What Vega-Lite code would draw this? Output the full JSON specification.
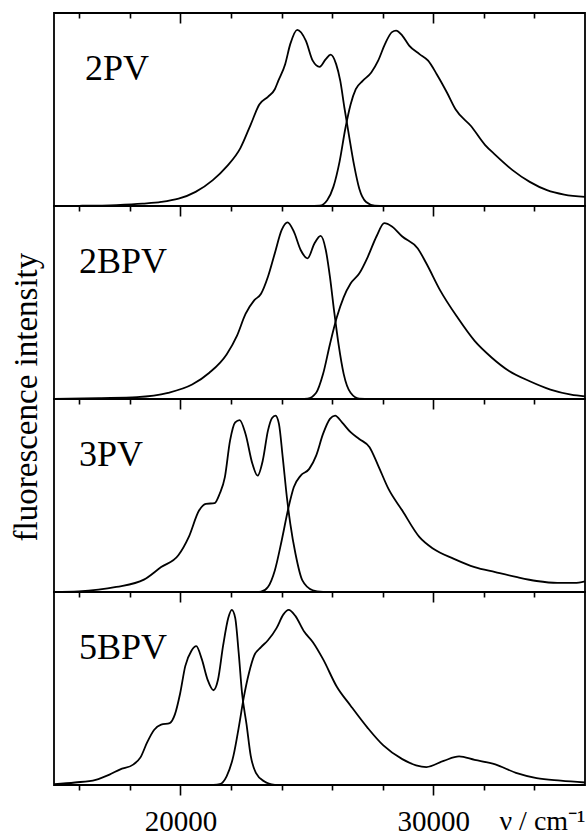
{
  "$schema": "https://vega.github.io/schema/vega-lite/v6.json",
  "autosize": {"type": "pad"},
  "padding": {"left": 10, "top": 11, "right": 0, "bottom": 0},
  "background": "white",
  "bounds": "flush",
  "spacing": 0,
  "title": {"text": "fluorescence intensity", "orient": "left", "anchor": "middle", "font": "Liberation Serif", "fontSize": 33, "fontWeight": "normal", "color": "black", "offset": 6, "dx": 27},
  "config": {
    "view": {"stroke": "black", "strokeWidth": 1.8},
    "font": "Liberation Serif",
    "axis": {"grid": false, "domain": false, "ticks": true, "tickColor": "black", "tickWidth": 1.6, "tickOpacity": 1, "labelFont": "Liberation Serif", "labelColor": "black", "titleColor": "black"},
    "line": {"color": "black", "strokeWidth": 1.8, "interpolate": "monotone"},
    "text": {"font": "Liberation Serif", "fontSize": 36, "color": "black", "align": "left", "baseline": "alphabetic"}
  },
  "datasets": {
    "spectra": [
      {"panel":"2PV","curve":"em","nu":15000,"intensity":0},{"panel":"2PV","curve":"em","nu":16000,"intensity":0.001},{"panel":"2PV","curve":"em","nu":17466,"intensity":0.005},{"panel":"2PV","curve":"em","nu":18500,"intensity":0.012},{"panel":"2PV","curve":"em","nu":19237,"intensity":0.021},{"panel":"2PV","curve":"em","nu":20600,"intensity":0.073},{"panel":"2PV","curve":"em","nu":21281,"intensity":0.134},{"panel":"2PV","curve":"em","nu":21826,"intensity":0.204},{"panel":"2PV","curve":"em","nu":22371,"intensity":0.300},{"panel":"2PV","curve":"em","nu":22779,"intensity":0.422},{"panel":"2PV","curve":"em","nu":23120,"intensity":0.526},{"panel":"2PV","curve":"em","nu":23461,"intensity":0.566},{"panel":"2PV","curve":"em","nu":23733,"intensity":0.605},{"panel":"2PV","curve":"em","nu":23869,"intensity":0.648},{"panel":"2PV","curve":"em","nu":24142,"intensity":0.735},{"panel":"2PV","curve":"em","nu":24346,"intensity":0.840},{"panel":"2PV","curve":"em","nu":24619,"intensity":0.913},{"panel":"2PV","curve":"em","nu":24959,"intensity":0.857},{"panel":"2PV","curve":"em","nu":25232,"intensity":0.753},{"panel":"2PV","curve":"em","nu":25504,"intensity":0.721},{"panel":"2PV","curve":"em","nu":25749,"intensity":0.761},{"panel":"2PV","curve":"em","nu":25940,"intensity":0.784},{"panel":"2PV","curve":"em","nu":26158,"intensity":0.735},{"panel":"2PV","curve":"em","nu":26322,"intensity":0.648},{"panel":"2PV","curve":"em","nu":26485,"intensity":0.509},{"panel":"2PV","curve":"em","nu":26662,"intensity":0.369},{"panel":"2PV","curve":"em","nu":26866,"intensity":0.213},{"panel":"2PV","curve":"em","nu":27071,"intensity":0.091},{"panel":"2PV","curve":"em","nu":27343,"intensity":0.021},{"panel":"2PV","curve":"em","nu":27684,"intensity":0.002},{"panel":"2PV","curve":"em","nu":28200,"intensity":0},
      {"panel":"2PV","curve":"abs","nu":25000,"intensity":0},{"panel":"2PV","curve":"abs","nu":25504,"intensity":0.002},{"panel":"2PV","curve":"abs","nu":25804,"intensity":0.030},{"panel":"2PV","curve":"abs","nu":26049,"intensity":0.099},{"panel":"2PV","curve":"abs","nu":26294,"intensity":0.230},{"panel":"2PV","curve":"abs","nu":26526,"intensity":0.404},{"panel":"2PV","curve":"abs","nu":26730,"intensity":0.526},{"panel":"2PV","curve":"abs","nu":26935,"intensity":0.605},{"panel":"2PV","curve":"abs","nu":27207,"intensity":0.648},{"panel":"2PV","curve":"abs","nu":27548,"intensity":0.692},{"panel":"2PV","curve":"abs","nu":27820,"intensity":0.753},{"panel":"2PV","curve":"abs","nu":28093,"intensity":0.840},{"panel":"2PV","curve":"abs","nu":28365,"intensity":0.901},{"panel":"2PV","curve":"abs","nu":28528,"intensity":0.909},{"panel":"2PV","curve":"abs","nu":28774,"intensity":0.883},{"panel":"2PV","curve":"abs","nu":29046,"intensity":0.831},{"panel":"2PV","curve":"abs","nu":29455,"intensity":0.787},{"panel":"2PV","curve":"abs","nu":29796,"intensity":0.753},{"panel":"2PV","curve":"abs","nu":30136,"intensity":0.683},{"panel":"2PV","curve":"abs","nu":30545,"intensity":0.587},{"panel":"2PV","curve":"abs","nu":30886,"intensity":0.500},{"panel":"2PV","curve":"abs","nu":31499,"intensity":0.413},{"panel":"2PV","curve":"abs","nu":32043,"intensity":0.317},{"panel":"2PV","curve":"abs","nu":32452,"intensity":0.265},{"panel":"2PV","curve":"abs","nu":33133,"intensity":0.186},{"panel":"2PV","curve":"abs","nu":33815,"intensity":0.125},{"panel":"2PV","curve":"abs","nu":34496,"intensity":0.082},{"panel":"2PV","curve":"abs","nu":35177,"intensity":0.059},{"panel":"2PV","curve":"abs","nu":36000,"intensity":0.047},
      {"panel":"2BPV","curve":"em","nu":15000,"intensity":0},{"panel":"2BPV","curve":"em","nu":16785,"intensity":0.005},{"panel":"2BPV","curve":"em","nu":18283,"intensity":0.010},{"panel":"2BPV","curve":"em","nu":19510,"intensity":0.032},{"panel":"2BPV","curve":"em","nu":20463,"intensity":0.075},{"panel":"2BPV","curve":"em","nu":21144,"intensity":0.136},{"panel":"2BPV","curve":"em","nu":21826,"intensity":0.231},{"panel":"2BPV","curve":"em","nu":22234,"intensity":0.327},{"panel":"2BPV","curve":"em","nu":22575,"intensity":0.441},{"panel":"2BPV","curve":"em","nu":22916,"intensity":0.511},{"panel":"2BPV","curve":"em","nu":23188,"intensity":0.545},{"panel":"2BPV","curve":"em","nu":23461,"intensity":0.633},{"panel":"2BPV","curve":"em","nu":23733,"intensity":0.755},{"panel":"2BPV","curve":"em","nu":24005,"intensity":0.876},{"panel":"2BPV","curve":"em","nu":24237,"intensity":0.915},{"panel":"2BPV","curve":"em","nu":24482,"intensity":0.868},{"panel":"2BPV","curve":"em","nu":24755,"intensity":0.772},{"panel":"2BPV","curve":"em","nu":25027,"intensity":0.729},{"panel":"2BPV","curve":"em","nu":25300,"intensity":0.806},{"panel":"2BPV","curve":"em","nu":25545,"intensity":0.845},{"panel":"2BPV","curve":"em","nu":25749,"intensity":0.772},{"panel":"2BPV","curve":"em","nu":25913,"intensity":0.633},{"panel":"2BPV","curve":"em","nu":26076,"intensity":0.458},{"panel":"2BPV","curve":"em","nu":26253,"intensity":0.284},{"panel":"2BPV","curve":"em","nu":26458,"intensity":0.129},{"panel":"2BPV","curve":"em","nu":26730,"intensity":0.032},{"panel":"2BPV","curve":"em","nu":27071,"intensity":0.002},{"panel":"2BPV","curve":"em","nu":27600,"intensity":0},
      {"panel":"2BPV","curve":"abs","nu":24700,"intensity":0},{"panel":"2BPV","curve":"abs","nu":25027,"intensity":0.002},{"panel":"2BPV","curve":"abs","nu":25368,"intensity":0.032},{"panel":"2BPV","curve":"abs","nu":25640,"intensity":0.129},{"panel":"2BPV","curve":"abs","nu":25913,"intensity":0.284},{"panel":"2BPV","curve":"abs","nu":26185,"intensity":0.423},{"panel":"2BPV","curve":"abs","nu":26458,"intensity":0.528},{"panel":"2BPV","curve":"abs","nu":26730,"intensity":0.598},{"panel":"2BPV","curve":"abs","nu":27071,"intensity":0.650},{"panel":"2BPV","curve":"abs","nu":27411,"intensity":0.737},{"panel":"2BPV","curve":"abs","nu":27752,"intensity":0.842},{"panel":"2BPV","curve":"abs","nu":28065,"intensity":0.911},{"panel":"2BPV","curve":"abs","nu":28365,"intensity":0.894},{"panel":"2BPV","curve":"abs","nu":28774,"intensity":0.842},{"panel":"2BPV","curve":"abs","nu":29387,"intensity":0.780},{"panel":"2BPV","curve":"abs","nu":29728,"intensity":0.702},{"panel":"2BPV","curve":"abs","nu":30272,"intensity":0.563},{"panel":"2BPV","curve":"abs","nu":30954,"intensity":0.423},{"panel":"2BPV","curve":"abs","nu":31635,"intensity":0.301},{"panel":"2BPV","curve":"abs","nu":32316,"intensity":0.214},{"panel":"2BPV","curve":"abs","nu":32997,"intensity":0.145},{"panel":"2BPV","curve":"abs","nu":33815,"intensity":0.092},{"panel":"2BPV","curve":"abs","nu":34632,"intensity":0.049},{"panel":"2BPV","curve":"abs","nu":35449,"intensity":0.023},{"panel":"2BPV","curve":"abs","nu":36000,"intensity":0.014},
      {"panel":"3PV","curve":"em","nu":15000,"intensity":0},{"panel":"3PV","curve":"em","nu":15967,"intensity":0.003},{"panel":"3PV","curve":"em","nu":17466,"intensity":0.026},{"panel":"3PV","curve":"em","nu":18556,"intensity":0.064},{"panel":"3PV","curve":"em","nu":19237,"intensity":0.129},{"panel":"3PV","curve":"em","nu":19918,"intensity":0.190},{"panel":"3PV","curve":"em","nu":20327,"intensity":0.284},{"panel":"3PV","curve":"em","nu":20736,"intensity":0.422},{"panel":"3PV","curve":"em","nu":21008,"intensity":0.457},{"panel":"3PV","curve":"em","nu":21349,"intensity":0.460},{"panel":"3PV","curve":"em","nu":21553,"intensity":0.509},{"panel":"3PV","curve":"em","nu":21758,"intensity":0.595},{"panel":"3PV","curve":"em","nu":21962,"intensity":0.784},{"panel":"3PV","curve":"em","nu":22166,"intensity":0.879},{"panel":"3PV","curve":"em","nu":22343,"intensity":0.891},{"panel":"3PV","curve":"em","nu":22575,"intensity":0.819},{"panel":"3PV","curve":"em","nu":22847,"intensity":0.664},{"panel":"3PV","curve":"em","nu":23052,"intensity":0.603},{"panel":"3PV","curve":"em","nu":23256,"intensity":0.681},{"panel":"3PV","curve":"em","nu":23461,"intensity":0.836},{"panel":"3PV","curve":"em","nu":23624,"intensity":0.902},{"panel":"3PV","curve":"em","nu":23760,"intensity":0.914},{"panel":"3PV","curve":"em","nu":23896,"intensity":0.871},{"panel":"3PV","curve":"em","nu":24046,"intensity":0.698},{"panel":"3PV","curve":"em","nu":24210,"intensity":0.491},{"panel":"3PV","curve":"em","nu":24346,"intensity":0.353},{"panel":"3PV","curve":"em","nu":24550,"intensity":0.198},{"panel":"3PV","curve":"em","nu":24823,"intensity":0.060},{"panel":"3PV","curve":"em","nu":25232,"intensity":0.009},{"panel":"3PV","curve":"em","nu":25640,"intensity":0},
      {"panel":"3PV","curve":"abs","nu":23000,"intensity":0},{"panel":"3PV","curve":"abs","nu":23188,"intensity":0.002},{"panel":"3PV","curve":"abs","nu":23461,"intensity":0.026},{"panel":"3PV","curve":"abs","nu":23733,"intensity":0.112},{"panel":"3PV","curve":"abs","nu":24005,"intensity":0.267},{"panel":"3PV","curve":"abs","nu":24278,"intensity":0.440},{"panel":"3PV","curve":"abs","nu":24482,"intensity":0.543},{"panel":"3PV","curve":"abs","nu":24755,"intensity":0.603},{"panel":"3PV","curve":"abs","nu":25095,"intensity":0.638},{"panel":"3PV","curve":"abs","nu":25368,"intensity":0.707},{"panel":"3PV","curve":"abs","nu":25640,"intensity":0.819},{"panel":"3PV","curve":"abs","nu":25913,"intensity":0.897},{"panel":"3PV","curve":"abs","nu":26117,"intensity":0.914},{"panel":"3PV","curve":"abs","nu":26390,"intensity":0.879},{"panel":"3PV","curve":"abs","nu":26730,"intensity":0.828},{"panel":"3PV","curve":"abs","nu":27071,"intensity":0.793},{"panel":"3PV","curve":"abs","nu":27480,"intensity":0.750},{"panel":"3PV","curve":"abs","nu":27820,"intensity":0.655},{"panel":"3PV","curve":"abs","nu":28229,"intensity":0.534},{"panel":"3PV","curve":"abs","nu":28774,"intensity":0.422},{"panel":"3PV","curve":"abs","nu":29455,"intensity":0.284},{"panel":"3PV","curve":"abs","nu":30000,"intensity":0.224},{"panel":"3PV","curve":"abs","nu":30817,"intensity":0.172},{"panel":"3PV","curve":"abs","nu":31635,"intensity":0.129},{"panel":"3PV","curve":"abs","nu":32452,"intensity":0.103},{"panel":"3PV","curve":"abs","nu":33270,"intensity":0.078},{"panel":"3PV","curve":"abs","nu":34087,"intensity":0.057},{"panel":"3PV","curve":"abs","nu":34905,"intensity":0.047},{"panel":"3PV","curve":"abs","nu":35586,"intensity":0.047},{"panel":"3PV","curve":"abs","nu":36000,"intensity":0.055},
      {"panel":"5BPV","curve":"em","nu":15014,"intensity":0.004},{"panel":"5BPV","curve":"em","nu":15831,"intensity":0.013},{"panel":"5BPV","curve":"em","nu":16649,"intensity":0.027},{"panel":"5BPV","curve":"em","nu":17194,"intensity":0.054},{"panel":"5BPV","curve":"em","nu":17602,"intensity":0.080},{"panel":"5BPV","curve":"em","nu":18147,"intensity":0.107},{"panel":"5BPV","curve":"em","nu":18420,"intensity":0.143},{"panel":"5BPV","curve":"em","nu":18692,"intensity":0.223},{"panel":"5BPV","curve":"em","nu":18965,"intensity":0.286},{"panel":"5BPV","curve":"em","nu":19237,"intensity":0.313},{"panel":"5BPV","curve":"em","nu":19578,"intensity":0.321},{"panel":"5BPV","curve":"em","nu":19782,"intensity":0.366},{"panel":"5BPV","curve":"em","nu":19986,"intensity":0.473},{"panel":"5BPV","curve":"em","nu":20191,"intensity":0.616},{"panel":"5BPV","curve":"em","nu":20436,"intensity":0.696},{"panel":"5BPV","curve":"em","nu":20627,"intensity":0.720},{"panel":"5BPV","curve":"em","nu":20845,"intensity":0.652},{"panel":"5BPV","curve":"em","nu":21076,"intensity":0.545},{"panel":"5BPV","curve":"em","nu":21308,"intensity":0.491},{"panel":"5BPV","curve":"em","nu":21485,"intensity":0.545},{"panel":"5BPV","curve":"em","nu":21689,"intensity":0.723},{"panel":"5BPV","curve":"em","nu":21894,"intensity":0.866},{"panel":"5BPV","curve":"em","nu":22030,"intensity":0.907},{"panel":"5BPV","curve":"em","nu":22166,"intensity":0.866},{"panel":"5BPV","curve":"em","nu":22302,"intensity":0.688},{"panel":"5BPV","curve":"em","nu":22439,"intensity":0.473},{"panel":"5BPV","curve":"em","nu":22616,"intensity":0.313},{"panel":"5BPV","curve":"em","nu":22779,"intensity":0.152},{"panel":"5BPV","curve":"em","nu":22984,"intensity":0.063},{"panel":"5BPV","curve":"em","nu":23324,"intensity":0.018},{"panel":"5BPV","curve":"em","nu":23733,"intensity":0},
      {"panel":"5BPV","curve":"abs","nu":21300,"intensity":0},{"panel":"5BPV","curve":"abs","nu":21553,"intensity":0.004},{"panel":"5BPV","curve":"abs","nu":21826,"intensity":0.045},{"panel":"5BPV","curve":"abs","nu":22098,"intensity":0.152},{"panel":"5BPV","curve":"abs","nu":22302,"intensity":0.295},{"panel":"5BPV","curve":"abs","nu":22507,"intensity":0.455},{"panel":"5BPV","curve":"abs","nu":22711,"intensity":0.580},{"panel":"5BPV","curve":"abs","nu":22916,"intensity":0.670},{"panel":"5BPV","curve":"abs","nu":23188,"intensity":0.714},{"panel":"5BPV","curve":"abs","nu":23461,"intensity":0.750},{"panel":"5BPV","curve":"abs","nu":23801,"intensity":0.813},{"panel":"5BPV","curve":"abs","nu":24074,"intensity":0.884},{"panel":"5BPV","curve":"abs","nu":24278,"intensity":0.907},{"panel":"5BPV","curve":"abs","nu":24550,"intensity":0.875},{"panel":"5BPV","curve":"abs","nu":24891,"intensity":0.795},{"panel":"5BPV","curve":"abs","nu":25232,"intensity":0.741},{"panel":"5BPV","curve":"abs","nu":25640,"intensity":0.652},{"panel":"5BPV","curve":"abs","nu":26185,"intensity":0.509},{"panel":"5BPV","curve":"abs","nu":26730,"intensity":0.411},{"panel":"5BPV","curve":"abs","nu":27411,"intensity":0.295},{"panel":"5BPV","curve":"abs","nu":28025,"intensity":0.205},{"panel":"5BPV","curve":"abs","nu":28774,"intensity":0.134},{"panel":"5BPV","curve":"abs","nu":29319,"intensity":0.102},{"panel":"5BPV","curve":"abs","nu":29728,"intensity":0.093},{"panel":"5BPV","curve":"abs","nu":30409,"intensity":0.125},{"panel":"5BPV","curve":"abs","nu":31022,"intensity":0.148},{"panel":"5BPV","curve":"abs","nu":31635,"intensity":0.130},{"panel":"5BPV","curve":"abs","nu":32452,"intensity":0.107},{"panel":"5BPV","curve":"abs","nu":33270,"intensity":0.063},{"panel":"5BPV","curve":"abs","nu":34087,"intensity":0.036},{"panel":"5BPV","curve":"abs","nu":35041,"intensity":0.023},{"panel":"5BPV","curve":"abs","nu":36000,"intensity":0.013}
    ]
  },
  "vconcat": [
    {
      "width": 531, "height": 193,
      "resolve": {"axis": {"x": "independent"}},
      "layer": [
        {
          "data": {"name": "spectra"},
          "transform": [{"filter": "datum.panel === '2PV' && datum.curve === 'em'"}],
          "mark": {"type": "line"},
          "encoding": {
            "x": {"field": "nu", "type": "quantitative", "scale": {"domain": [15000, 36000], "nice": false, "zero": false},
                  "axis": {"orient": "bottom", "values": [16000,18000,22000,24000,26000,28000,32000,34000], "labels": false, "title": null, "tickSize": 5}},
            "y": {"field": "intensity", "type": "quantitative", "scale": {"domain": [0, 1], "nice": false}, "axis": {"values": [0, 1], "labels": false, "title": null, "tickSize": 11}}
          }
        },
        {
          "data": {"name": "spectra"},
          "transform": [{"filter": "datum.panel === '2PV' && datum.curve === 'abs'"}],
          "mark": {"type": "line"},
          "encoding": {
            "x": {"field": "nu", "type": "quantitative", "scale": {"domain": [15000, 36000], "nice": false, "zero": false},
                  "axis": {"orient": "bottom", "values": [20000, 30000], "labels": false, "title": null, "tickSize": 10}},
            "y": {"field": "intensity", "type": "quantitative", "axis": {"values": [0, 1], "labels": false, "title": null, "tickSize": 11}}
          }
        },
        {
          "data": {"values": [{"name": "2PV"}]},
          "mark": {"type": "text"},
          "encoding": {
            "x": {"datum": 16226, "type": "quantitative", "axis": {"orient": "top", "values": [16000,18000,22000,24000,26000,28000,32000,34000], "labels": false, "title": null, "tickSize": 5, "offset": -5}},
            "y": {"datum": 0.655, "type": "quantitative", "axis": null},
            "text": {"field": "name"}
          }
        },
        {
          "data": {"values": [{"name": ""}]},
          "mark": {"type": "text"},
          "encoding": {
            "x": {"datum": 16226, "type": "quantitative", "axis": {"orient": "top", "values": [20000, 30000], "labels": false, "title": null, "tickSize": 10, "offset": -10}},
            "y": {"datum": 0.655, "type": "quantitative", "axis": null},
            "text": {"field": "name"}
          }
        }
      ]
    },
    {
      "width": 531, "height": 193,
      "resolve": {"axis": {"x": "independent"}},
      "layer": [
        {
          "data": {"name": "spectra"},
          "transform": [{"filter": "datum.panel === '2BPV' && datum.curve === 'em'"}],
          "mark": {"type": "line"},
          "encoding": {
            "x": {"field": "nu", "type": "quantitative", "scale": {"domain": [15000, 36000], "nice": false, "zero": false},
                  "axis": {"orient": "bottom", "values": [16000,18000,22000,24000,26000,28000,32000,34000], "labels": false, "title": null, "tickSize": 5}},
            "y": {"field": "intensity", "type": "quantitative", "scale": {"domain": [0, 1], "nice": false}, "axis": {"values": [0, 1], "labels": false, "title": null, "tickSize": 11}}
          }
        },
        {
          "data": {"name": "spectra"},
          "transform": [{"filter": "datum.panel === '2BPV' && datum.curve === 'abs'"}],
          "mark": {"type": "line"},
          "encoding": {
            "x": {"field": "nu", "type": "quantitative", "scale": {"domain": [15000, 36000], "nice": false, "zero": false},
                  "axis": {"orient": "bottom", "values": [20000, 30000], "labels": false, "title": null, "tickSize": 10}},
            "y": {"field": "intensity", "type": "quantitative", "axis": {"values": [0, 1], "labels": false, "title": null, "tickSize": 11}}
          }
        },
        {
          "data": {"values": [{"name": "2BPV"}]},
          "mark": {"type": "text"},
          "encoding": {
            "x": {"datum": 15990, "type": "quantitative", "axis": null},
            "y": {"datum": 0.655, "type": "quantitative", "axis": null},
            "text": {"field": "name"}
          }
        }
      ]
    },
    {
      "width": 531, "height": 193,
      "resolve": {"axis": {"x": "independent"}},
      "layer": [
        {
          "data": {"name": "spectra"},
          "transform": [{"filter": "datum.panel === '3PV' && datum.curve === 'em'"}],
          "mark": {"type": "line"},
          "encoding": {
            "x": {"field": "nu", "type": "quantitative", "scale": {"domain": [15000, 36000], "nice": false, "zero": false},
                  "axis": {"orient": "bottom", "values": [16000,18000,22000,24000,26000,28000,32000,34000], "labels": false, "title": null, "tickSize": 5}},
            "y": {"field": "intensity", "type": "quantitative", "scale": {"domain": [0, 1], "nice": false}, "axis": {"values": [0, 1], "labels": false, "title": null, "tickSize": 11}}
          }
        },
        {
          "data": {"name": "spectra"},
          "transform": [{"filter": "datum.panel === '3PV' && datum.curve === 'abs'"}],
          "mark": {"type": "line"},
          "encoding": {
            "x": {"field": "nu", "type": "quantitative", "scale": {"domain": [15000, 36000], "nice": false, "zero": false},
                  "axis": {"orient": "bottom", "values": [20000, 30000], "labels": false, "title": null, "tickSize": 10}},
            "y": {"field": "intensity", "type": "quantitative", "axis": {"values": [0, 1], "labels": false, "title": null, "tickSize": 11}}
          }
        },
        {
          "data": {"values": [{"name": "3PV"}]},
          "mark": {"type": "text"},
          "encoding": {
            "x": {"datum": 15990, "type": "quantitative", "axis": null},
            "y": {"datum": 0.655, "type": "quantitative", "axis": null},
            "text": {"field": "name"}
          }
        }
      ]
    },
    {
      "width": 531, "height": 193,
      "resolve": {"axis": {"x": "independent"}},
      "layer": [
        {
          "data": {"name": "spectra"},
          "transform": [{"filter": "datum.panel === '5BPV' && datum.curve === 'em'"}],
          "mark": {"type": "line"},
          "encoding": {
            "x": {"field": "nu", "type": "quantitative", "scale": {"domain": [15000, 36000], "nice": false, "zero": false},
                  "axis": {"orient": "bottom", "values": [16000,18000,22000,24000,26000,28000,32000,34000], "labels": false, "title": null, "tickSize": 5}},
            "y": {"field": "intensity", "type": "quantitative", "scale": {"domain": [0, 1], "nice": false}, "axis": {"values": [0, 1], "labels": false, "title": null, "tickSize": 11}}
          }
        },
        {
          "data": {"name": "spectra"},
          "transform": [{"filter": "datum.panel === '5BPV' && datum.curve === 'abs'"}],
          "mark": {"type": "line"},
          "encoding": {
            "x": {"field": "nu", "type": "quantitative", "scale": {"domain": [15000, 36000], "nice": false, "zero": false},
                  "axis": {"orient": "bottom", "values": [20000, 30000], "tickSize": 10, "format": "d", "labelFontSize": 29, "labelBaseline": "alphabetic", "labelPadding": 35, "labelFlush": false, "labelOverlap": false,
                           "title": "ν / cm⁻¹", "titleFont": "Liberation Serif", "titleFontSize": 28, "titleFontWeight": "normal", "titleY": 44, "titleAlign": "right", "titleAnchor": "end", "titleBaseline": "alphabetic"}},
            "y": {"field": "intensity", "type": "quantitative", "axis": {"values": [0, 1], "labels": false, "title": null, "tickSize": 11}}
          }
        },
        {
          "data": {"values": [{"name": "5BPV"}]},
          "mark": {"type": "text"},
          "encoding": {
            "x": {"datum": 15990, "type": "quantitative", "axis": null},
            "y": {"datum": 0.655, "type": "quantitative", "axis": null},
            "text": {"field": "name"}
          }
        }
      ]
    }
  ]
}
